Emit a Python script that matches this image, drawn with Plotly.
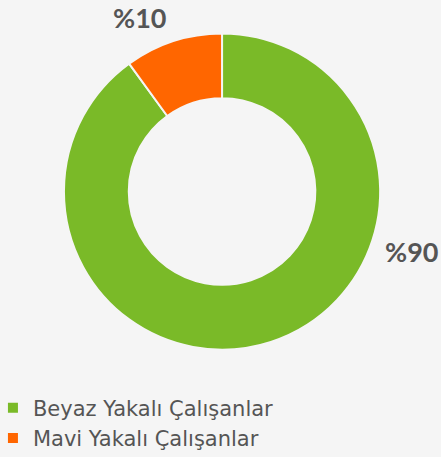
import plotly.graph_objects as go

labels = ["Beyaz Yakalı Çalışanlar", "Mavi Yakalı Çalışanlar"]
values = [90, 10]
colors = ["#7aba28", "#ff6600"]

# where each percentage label sits (paper coords)
label_pos = [(0.932, 0.449), (0.317, 0.961)]

fig = go.Figure(
    go.Pie(
        labels=labels,
        values=values,
        hole=0.59,
        sort=False,
        direction="clockwise",
        rotation=0,
        marker=dict(colors=colors, line=dict(color="#f5f5f5", width=2)),
        textinfo="none",
        domain=dict(x=[0.145, 0.862], y=[0.234, 0.928]),
        hoverinfo="label+percent",
    )
)

for v, (x, y) in zip(values, label_pos):
    fig.add_annotation(
        x=x, y=y, xref="paper", yref="paper",
        xanchor="center", yanchor="middle",
        text="%" + str(v),
        showarrow=False,
        font=dict(family="Lato", size=27, color="#555555", weight="bold"),
    )

fig.update_layout(
    width=441,
    height=457,
    margin=dict(l=0, r=0, t=0, b=0, autoexpand=False),
    paper_bgcolor="#f5f5f5",
    plot_bgcolor="#f5f5f5",
    showlegend=True,
    legend=dict(
        x=-0.016,
        y=0.152,
        xanchor="left",
        yanchor="top",
        font=dict(family="DejaVu Sans", size=21, color="#555555"),
        bgcolor="rgba(0,0,0,0)",
    ),
)

# drop the page's default body margin so the figure fills the window
fig.write_html(
    "out.html",
    config={"displayModeBar": False},
    post_script="document.body.style.margin='0';",
)
